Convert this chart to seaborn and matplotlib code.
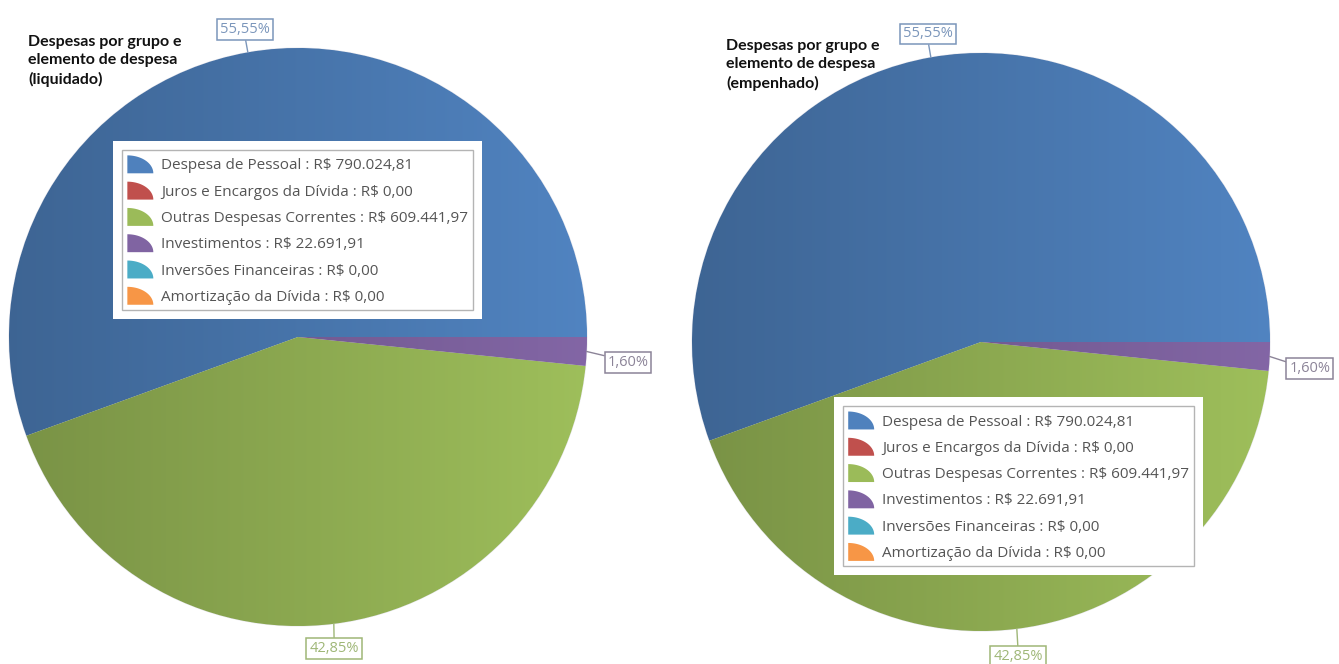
"""
Despesas por grupo e elemento de despesa: liquidado vs empenhado (pizza).
"""

import numpy as np
import matplotlib
matplotlib.use("Agg")
import matplotlib.pyplot as plt
import seaborn as sns
from matplotlib.patches import Polygon, Rectangle, Patch
from matplotlib.legend_handler import HandlerPatch
from matplotlib.transforms import IdentityTransform

# ---- dados ----
categorias = [
    "Despesa de Pessoal",
    "Juros e Encargos da Dívida",
    "Outras Despesas Correntes",
    "Investimentos",
    "Inversões Financeiras",
    "Amortização da Dívida",
]
valores_liquidado = [790024.81, 0.00, 609441.97, 22691.91, 0.00, 0.00]
valores_empenhado = [790024.81, 0.00, 609441.97, 22691.91, 0.00, 0.00]
titulos = [
    "Despesas por grupo e\nelemento de despesa\n(liquidado)",
    "Despesas por grupo e\nelemento de despesa\n(empenhado)",
]
cores = ["#4F81BD", "#C0504D", "#9BBB59", "#8064A2", "#4BACC6", "#F79646"]
cores_rotulo = {0: "#7b96bb", 2: "#9fb777", 3: "#8c8498"}

sns.set_theme(style="white")
plt.rcParams["font.family"] = ["Open Sans", "DejaVu Sans"]
pal = sns.color_palette(cores)

W, H = 1339, 664
fig = plt.figure(figsize=(W / 100, H / 100), dpi=100)
fig.patch.set_facecolor("white")


def brl(v):
    s = f"{v:,.2f}"
    return s.replace(",", "X").replace(".", ",").replace("X", ".")


def quarter(legend, orig_handle, xdescent, ydescent, width, height, fontsize):
    t = np.linspace(0, np.pi / 2, 30)
    pts = [(0, 0)] + list(zip(width * np.cos(t), height * np.sin(t)))
    return Polygon(np.array(pts) - [xdescent, ydescent], closed=True)


# layout (pixels): centro da pizza, raio, legenda, titulo
paineis = [
    dict(vals=valores_liquidado, titulo=titulos[0], cx=298, cy=337, r=289,
         leg=(0.1955, 0.8235), tit=(28, 35),
         pos={0: (-0.183, 1.063), 2: (0.125, -1.078), 3: (1.142, -0.088)}),
    dict(vals=valores_empenhado, titulo=titulos[1], cx=981, cy=342, r=289,
         leg=(0.261, 0.389), tit=(726, 39),
         pos={0: (-0.183, 1.066), 2: (0.128, -1.088), 3: (1.138, -0.093)}),
]

legends = []
for p in paineis:
    cx, cy, r = p["cx"], p["cy"], p["r"]
    ax = fig.add_axes([(cx - r) / W, (H - cy - r) / H, 2 * r / W, 2 * r / H])
    vals = np.array(p["vals"])
    wedges, _ = ax.pie(vals, colors=pal, startangle=0, counterclock=True,
                       radius=1, wedgeprops=dict(edgecolor="#e8e8ee", linewidth=0.8))

    # gradiente horizontal (mais escuro à esquerda)
    xs = np.linspace(0, 1, 256)
    fac = 0.78 + 0.24 * xs
    for w, c, v in zip(wedges, pal, vals):
        if v <= 0:
            continue
        img = np.clip(np.array(c)[None, None, :] * fac[None, :, None], 0, 1)
        im = ax.imshow(img, extent=(-1, 1, -1, 1), aspect="auto",
                       interpolation="bilinear", zorder=w.get_zorder() + 0.1)
        im.set_clip_path(w)

    ax.set_xlim(-1, 1)
    ax.set_ylim(-1, 1)
    ax.set_aspect("equal")
    ax.axis("off")

    total = vals.sum()
    for i, (w, v) in enumerate(zip(wedges, vals)):
        if v <= 0:
            continue
        ang = np.deg2rad((w.theta1 + w.theta2) / 2)
        ex, ey = np.cos(ang), np.sin(ang)
        tx, ty = p["pos"][i]
        if ty > 0.9:
            rel = (0.5, 0)
        elif ty < -0.9:
            rel = (0.5, 1)
        else:
            rel = (0, 0.9)
        col = cores_rotulo[i]
        txt = f"{v / total * 100:.2f}".replace(".", ",") + "%"
        ax.annotate(txt, xy=(ex, ey),
                    xytext=(tx, ty), ha="center", va="center", fontsize=10.5,
                    color=col, annotation_clip=False,
                    bbox=dict(boxstyle="square,pad=0.2", fc="white", ec=col, lw=1.1),
                    arrowprops=dict(arrowstyle="-", color=col, lw=1,
                                    shrinkA=0, shrinkB=0, relpos=rel))

    handles = [Patch(facecolor=c, edgecolor="none") for c in pal]
    labels = [f"{n} : R$ {brl(v)}" for n, v in zip(categorias, p["vals"])]
    leg = ax.legend(handles, labels, loc="upper left", bbox_to_anchor=p["leg"],
                    borderaxespad=0, fontsize=11, handlelength=1.7,
                    handleheight=1.43, handletextpad=0.5, labelspacing=0.54,
                    borderpad=0.35, frameon=True, fancybox=False, framealpha=1,
                    edgecolor="#b4b4b4", labelcolor="#555555",
                    handler_map={Patch: HandlerPatch(patch_func=quarter)})
    leg.get_frame().set_linewidth(1)
    legends.append((ax, leg))

    fig.text(p["tit"][0] / W, 1 - p["tit"][1] / H, p["titulo"], ha="left",
             va="top", fontsize=11.5, fontweight="bold", color="#111111",
             linespacing=1.38, family=["Lato", "DejaVu Sans"])

# moldura branca externa das legendas
fig.canvas.draw()
renderer = fig.canvas.get_renderer()
for ax, leg in legends:
    bb = leg.get_window_extent(renderer)
    pad = 9
    rect = Rectangle((bb.x0 - pad, bb.y0 - pad), bb.width + 2 * pad,
                     bb.height + 2 * pad, transform=IdentityTransform(),
                     facecolor="white", edgecolor="none", zorder=4.9,
                     clip_on=False)
    ax.add_patch(rect)

plt.savefig("out.png", dpi=100)
plt.close()
